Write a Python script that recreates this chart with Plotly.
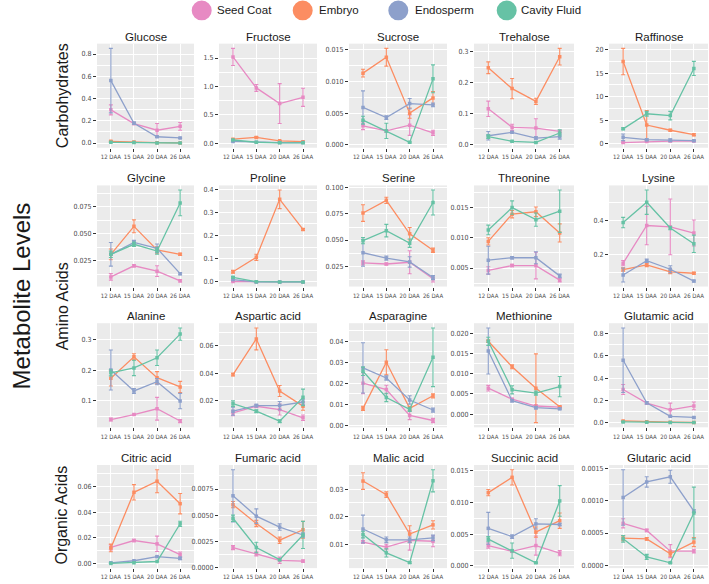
import plotly.graph_objects as go

# ---------------- data ----------------
days = ["12 DAA", "15 DAA", "20 DAA", "26 DAA"]
tissues = ["Seed Coat", "Embryo", "Endosperm", "Cavity Fluid"]
colors = ["#E78AC3", "#FC8D62", "#8DA0CB", "#66C2A5"]
groups = ["Carbohydrates", "Amino Acids", "Organic Acids"]
metabolites = ["Glucose", "Fructose", "Sucrose", "Trehalose", "Raffinose",
               "Glycine", "Proline", "Serine", "Threonine", "Lysine",
               "Alanine", "Aspartic acid", "Asparagine", "Methionine", "Glutamic acid",
               "Citric acid", "Fumaric acid", "Malic acid", "Succinic acid", "Glutaric acid"]

# each list: [Seed Coat, Embryo, Endosperm, Cavity Fluid] x [12, 15, 20, 26 DAA]
glucose = [[0.298, 0.175, 0.115, 0.150], [0.015, 0.008, 0.003, 0.001], [0.561, 0.178, 0.056, 0.046], [0.006, 0.004, 0.001, 0.000]]
glucose_err = [[0.045, 0.010, 0.060, 0.035], [0.004, 0.002, 0.001, 0.001], [0.29, 0.010, 0.006, 0.006], [0.003, 0.001, 0.001, 0.0]]
fructose = [[1.52, 0.975, 0.70, 0.81], [0.075, 0.105, 0.045, 0.03], [0.035, 0.02, 0.015, 0.015], [0.06, 0.02, 0.01, 0.01]]
fructose_err = [[0.15, 0.06, 0.35, 0.16], [0.01, 0.015, 0.005, 0.005], [0.01, 0.005, 0.003, 0.003], [0.01, 0.005, 0.003, 0.003]]
sucrose = [[0.0030, 0.0022, 0.0031, 0.0019], [0.0113, 0.0138, 0.0050, 0.0074], [0.0059, 0.0043, 0.0065, 0.0063], [0.0039, 0.0022, 0.0004, 0.0104]]
sucrose_err = [[0.0006, 0.0002, 0.0016, 0.0004], [0.0006, 0.0014, 0.0008, 0.0010], [0.0026, 0.0003, 0.0008, 0.0003], [0.0006, 0.0012, 0.0001, 0.0022]]
trehalose = [[0.1145, 0.0545, 0.052, 0.041], [0.2476, 0.18, 0.1385, 0.2836], [0.027, 0.038, 0.0196, 0.024], [0.024, 0.009, 0.0055, 0.036]]
trehalose_err = [[0.025, 0.01, 0.03, 0.004], [0.019, 0.033, 0.01, 0.027], [0.014, 0.003, 0.004, 0.008], [0.006, 0.002, 0.002, 0.01]]
raffinose = [[0.3, 0.5, 0.6, 0.6], [17.45, 4.0, 2.9, 1.96], [1.4, 0.9, 0.8, 0.7], [3.2, 6.4, 6.0, 16.0]]
raffinose_err = [[0.1, 0.1, 0.1, 0.1], [2.8, 3.1, 0.2, 0.2], [0.7, 0.2, 0.3, 0.1], [0.2, 0.5, 0.9, 1.5]]
glycine = [[0.010, 0.0203, 0.0153, 0.0063], [0.031, 0.057, 0.035, 0.031], [0.031, 0.042, 0.0366, 0.013], [0.031, 0.0403, 0.034, 0.0788]]
glycine_err = [[0.003, 0.001, 0.005, 0.001], [0.005, 0.006, 0.003, 0.001], [0.011, 0.002, 0.004, 0.001], [0.003, 0.002, 0.003, 0.012]]
proline = [[0.002, 0.0, 0.0, 0.0], [0.044, 0.106, 0.356, 0.226], [0.01, 0.0, 0.0, 0.0], [0.02, 0.001, 0.0, 0.0]]
proline_err = [[0.001, 0, 0, 0], [0.006, 0.013, 0.04, 0.004], [0.003, 0, 0, 0], [0.003, 0, 0, 0]]
serine = [[0.028, 0.027, 0.0287, 0.0128], [0.0759, 0.0881, 0.056, 0.0402], [0.0378, 0.0326, 0.029, 0.014], [0.0494, 0.059, 0.047, 0.086]]
serine_err = [[0.002, 0.001, 0.011, 0.003], [0.008, 0.003, 0.006, 0.002], [0.013, 0.002, 0.005, 0.002], [0.003, 0.006, 0.004, 0.012]]
threonine = [[0.0046, 0.0054, 0.0054, 0.0030], [0.0094, 0.0139, 0.0143, 0.0108], [0.0063, 0.0067, 0.0067, 0.0037], [0.0113, 0.0150, 0.0130, 0.0144]]
threonine_err = [[0.0006, 0.0002, 0.0022, 0.0003], [0.0006, 0.0006, 0.0008, 0.0015], [0.0023, 0.0002, 0.001, 0.0003], [0.0008, 0.0011, 0.0011, 0.0035]]
lysine = [[0.153, 0.369, 0.361, 0.326], [0.116, 0.143, 0.103, 0.095], [0.085, 0.167, 0.118, 0.05], [0.386, 0.503, 0.355, 0.264]]
lysine_err = [[0.015, 0.11, 0.16, 0.075], [0.01, 0.01, 0.01, 0.005], [0.04, 0.01, 0.02, 0.005], [0.03, 0.07, 0.01, 0.05]]
alanine = [[0.039, 0.055, 0.074, 0.034], [0.173, 0.243, 0.175, 0.145], [0.20, 0.132, 0.162, 0.099], [0.191, 0.207, 0.24, 0.317]]
alanine_err = [[0.005, 0.002, 0.037, 0.005], [0.025, 0.01, 0.02, 0.018], [0.065, 0.008, 0.01, 0.025], [0.01, 0.025, 0.025, 0.02]]
aspartic = [[0.011, 0.0159, 0.0135, 0.0075], [0.039, 0.065, 0.027, 0.016], [0.0123, 0.0164, 0.0164, 0.019], [0.0178, 0.0123, 0.005, 0.0224]]
aspartic_err = [[0.002, 0.001, 0.004, 0.002], [0.001, 0.008, 0.004, 0.003], [0.003, 0.001, 0.003, 0.002], [0.002, 0.001, 0.001, 0.006]]
asparagine = [[0.020, 0.017, 0.0046, 0.0022], [0.008, 0.030, 0.008, 0.014], [0.0273, 0.0225, 0.012, 0.0072], [0.0257, 0.0132, 0.0075, 0.0324]]
asparagine_err = [[0.005, 0.002, 0.002, 0.001], [0.001, 0.006, 0.001, 0.001], [0.012, 0.001, 0.002, 0.001], [0.002, 0.002, 0.001, 0.014]]
methionine = [[0.0064, 0.0037, 0.0020, 0.0017], [0.0180, 0.0117, 0.0064, 0.0018], [0.0156, 0.0033, 0.0016, 0.0013], [0.0180, 0.0060, 0.0052, 0.0068]]
methionine_err = [[0.0007, 0.0002, 0.0003, 0.0002], [0.0003, 0.0005, 0.0085, 0.0002], [0.0057, 0.0003, 0.0003, 0.0002], [0.0010, 0.0010, 0.0005, 0.0025]]
glutamic = [[0.298, 0.175, 0.115, 0.150], [0.015, 0.008, 0.003, 0.001], [0.561, 0.178, 0.056, 0.046], [0.006, 0.004, 0.001, 0.000]]
glutamic_err = [[0.045, 0.010, 0.060, 0.035], [0.004, 0.002, 0.001, 0.001], [0.29, 0.010, 0.006, 0.006], [0.003, 0.001, 0.001, 0.0]]
citric = [[0.0126, 0.0179, 0.0153, 0.0069], [0.0121, 0.0556, 0.0643, 0.0467], [0.0005, 0.0021, 0.0053, 0.0040], [0.0, 0.0005, 0.0015, 0.031]]
citric_err = [[0.002, 0.001, 0.006, 0.002], [0.003, 0.006, 0.009, 0.008], [0.0003, 0.0003, 0.0005, 0.001], [0.0, 0.0, 0.0, 0.002]]
fumaric = [[0.0019, 0.0013, 0.00068, 0.0006], [0.0060, 0.0042, 0.0026, 0.0036], [0.00685, 0.0049, 0.00386, 0.0031], [0.0047, 0.0019, 0.00074, 0.0031]]
fumaric_err = [[0.0002, 0.0002, 0.0003, 0.0001], [0.0003, 0.0003, 0.0003, 0.0008], [0.0025, 0.0007, 0.0003, 0.0002], [0.0003, 0.0005, 0.0001, 0.0013]]
malic = [[0.0109, 0.0091, 0.0115, 0.0112], [0.0329, 0.028, 0.0138, 0.0171], [0.0156, 0.0117, 0.0117, 0.0124], [0.0136, 0.0070, 0.0035, 0.033]]
malic_err = [[0.0005, 0.001, 0.0035, 0.002], [0.003, 0.001, 0.003, 0.0015], [0.005, 0.001, 0.001, 0.001], [0.0012, 0.0015, 0.0003, 0.004]]
succinic = [[0.0032, 0.0023, 0.0032, 0.0020], [0.0115, 0.0139, 0.0053, 0.0071], [0.0059, 0.0046, 0.0066, 0.0065], [0.0042, 0.0024, 0.0005, 0.0102]]
succinic_err = [[0.0004, 0.0002, 0.0015, 0.0004], [0.0005, 0.0012, 0.0008, 0.0012], [0.0025, 0.0003, 0.0008, 0.0002], [0.0004, 0.0012, 0.0001, 0.0024]]
glutaric = [[0.00065, 0.00054, 0.00022, 0.00022], [0.00042, 0.00041, 0.00018, 0.00036], [0.00105, 0.00129, 0.00137, 0.00084], [0.00041, 0.00013, 0.00004, 0.00081]]
glutaric_err = [[0.00007, 0.00002, 0.0001, 0.00003], [0.00004, 0.00002, 0.00004, 0.00007], [0.00043, 0.00008, 0.0001, 0.00002], [0.00005, 0.00004, 0.00001, 0.0004]]

y_dticks = [0.2, 0.5, 0.005, 0.1, 5,
            0.025, 0.1, 0.025, 0.005, 0.2,
            0.1, 0.02, 0.01, 0.005, 0.2,
            0.02, 0.0025, 0.01, 0.005, 0.0005]
y_formats = [".1f", ".1f", ".3f", ".1f", "d",
             ".3f", ".1f", ".3f", ".3f", ".1f",
             ".1f", ".2f", ".2f", ".3f", ".1f",
             ".2f", ".4f", ".2f", ".3f", ".4f"]

means = [glucose, fructose, sucrose, trehalose, raffinose,
         glycine, proline, serine, threonine, lysine,
         alanine, aspartic, asparagine, methionine, glutamic,
         citric, fumaric, malic, succinic, glutaric]
errors = [glucose_err, fructose_err, sucrose_err, trehalose_err, raffinose_err,
          glycine_err, proline_err, serine_err, threonine_err, lysine_err,
          alanine_err, aspartic_err, asparagine_err, methionine_err, glutamic_err,
          citric_err, fumaric_err, malic_err, succinic_err, glutaric_err]

# ---------------- layout ----------------
W, H = 709, 584
col_px = [(97, 194), (219, 317), (349, 447), (474, 574), (609, 708)]
row_px = [(43, 148), (186, 288), (325, 430), (468, 572)]
narrow = "Liberation Sans Narrow, DejaVu Sans Condensed, Arial Narrow, sans-serif"
x_tick_font = dict(family=narrow, size=6, color="#4D4D4D")
y_tick_font = dict(family=narrow, size=7, color="#4D4D4D")
text_font = "Liberation Sans, Arial, Helvetica, sans-serif"

fig = go.Figure()
annotations = []
layout_axes = {}

for i, name in enumerate(metabolites):
    r, c = divmod(i, 5)
    k = "" if i == 0 else str(i + 1)
    xa, ya = "x" + k, "y" + k
    m, e = means[i], errors[i]
    for t in range(4):
        fig.add_trace(go.Scatter(
            x=days, y=m[t], xaxis=xa, yaxis=ya, mode="lines+markers",
            line=dict(color=colors[t], width=1.3),
            marker=dict(color=colors[t], size=3.5, symbol="square"),
            error_y=dict(type="data", array=e[t], visible=True, color=colors[t],
                         thickness=1.1, width=2),
            name=tissues[t], showlegend=False, hoverinfo="x+y"))
    lo = min(m[t][j] - e[t][j] for t in range(4) for j in range(4))
    hi = max(m[t][j] + e[t][j] for t in range(4) for j in range(4))
    span = hi - lo
    x0, x1 = col_px[c]
    y0, y1 = row_px[r]
    layout_axes["xaxis" + k] = dict(
        domain=[x0 / W, x1 / W], anchor=ya, type="category",
        categoryorder="array", categoryarray=days, range=[-0.6, 3.6],
        showgrid=True, gridcolor="white", gridwidth=1.1, zeroline=False,
        showline=False, ticks="outside", ticklen=3, tickwidth=0.8, tickcolor="#333333",
        tickfont=x_tick_font, tickangle=0)
    layout_axes["yaxis" + k] = dict(
        domain=[1 - y1 / H, 1 - y0 / H], anchor=xa,
        range=[lo - 0.05 * span, hi + 0.05 * span],
        tick0=0, dtick=y_dticks[i], tickformat=y_formats[i],
        showgrid=True, gridcolor="white", gridwidth=1.1, zeroline=False,
        showline=False, ticks="outside", ticklen=3, tickwidth=0.8, tickcolor="#333333",
        tickfont=y_tick_font,
        minor=dict(dtick=y_dticks[i] / 2, tick0=0, showgrid=True,
                   gridcolor="white", gridwidth=0.5, ticks=""))
    annotations.append(dict(
        text=name, x=(x0 + x1) / 2 / W, y=1 - y0 / H, xref="paper", yref="paper",
        xanchor="center", yanchor="bottom", yshift=-1, showarrow=False,
        font=dict(family=text_font, size=11.5, color="#1A1A1A")))

# group labels
group_centers = [96, 308, 519]
for g, yc in zip(groups, group_centers):
    annotations.append(dict(
        text=g, x=62 / W, y=1 - yc / H, xref="paper", yref="paper",
        xanchor="center", yanchor="middle", textangle=-90, showarrow=False,
        font=dict(family=text_font, size=16, color="#1A1A1A")))
annotations.append(dict(
    text="Metabolite Levels", x=21 / W, y=1 - 298 / H, xref="paper", yref="paper",
    xanchor="center", yanchor="middle", textangle=-90, showarrow=False,
    font=dict(family=text_font, size=24, color="#1A1A1A")))

# legend (circles + labels)
shapes = []
leg_circle_x = [201.7, 302.7, 398.3, 506.7]
leg_text_x = [215, 316.7, 413.3, 519.3]
leg_y = 9.5
for t in range(4):
    cx = leg_circle_x[t]
    shapes.append(dict(type="circle", xref="paper", yref="paper",
                       x0=(cx - 10) / W, x1=(cx + 10) / W,
                       y0=1 - (leg_y + 10) / H, y1=1 - (leg_y - 10) / H,
                       fillcolor=colors[t], line=dict(width=0)))
    annotations.append(dict(
        text=tissues[t], x=leg_text_x[t] / W, y=1 - leg_y / H, xref="paper", yref="paper",
        xanchor="left", yanchor="middle", showarrow=False,
        font=dict(family=text_font, size=11.5, color="#1A1A1A")))

fig.update_layout(
    width=W, height=H, margin=dict(l=0, r=0, t=0, b=0),
    paper_bgcolor="white", plot_bgcolor="#EBEBEB",
    showlegend=False, annotations=annotations, shapes=shapes,
    **layout_axes)

fig.write_html("out.html", config={"displayModeBar": False},
               post_script="document.body.style.margin='0';")
